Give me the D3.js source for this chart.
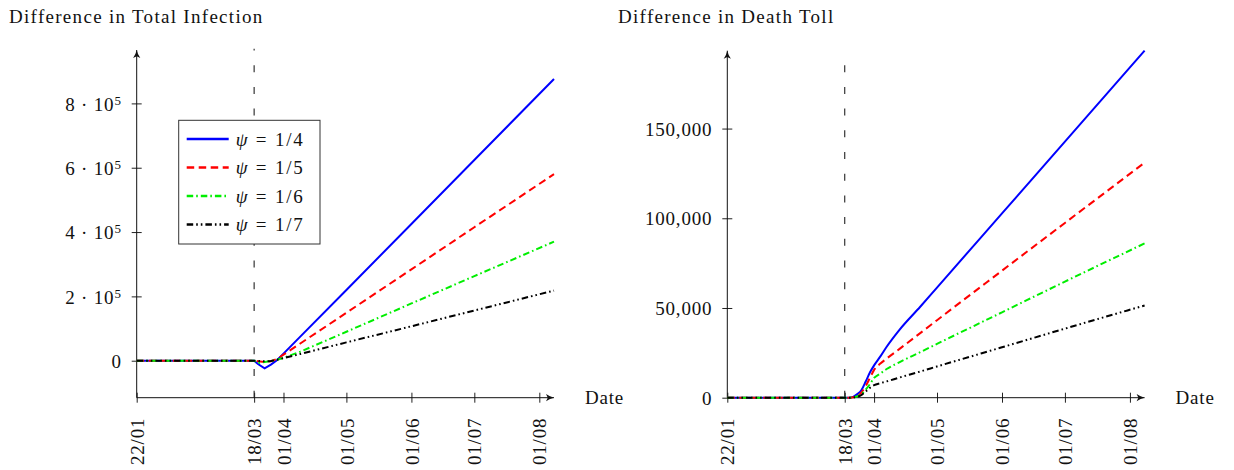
<!DOCTYPE html>
<html>
<head>
<meta charset="utf-8">
<script src="https://cdn.jsdelivr.net/npm/d3@7"></script>
<style>
body { margin: 0; background: #fff; }
svg text { font-family: "Liberation Serif", "DejaVu Serif", serif; fill: #111; letter-spacing: 0.8px; }
</style>
</head>
<body>
<svg id="chart" width="1234" height="470"></svg>
<script>
// ---- data ----
var tickDates = ["2020-01-22", "2020-03-18", "2020-04-01", "2020-05-01", "2020-06-01", "2020-07-01", "2020-08-01"];
var lockdownDate = "2020-03-18";
var psiLabels = ["1/4", "1/5", "1/6", "1/7"];

// Difference in total infection
var infectDates = ["2020-01-22", "2020-03-18", "2020-03-20", "2020-03-23", "2020-03-26", "2020-03-29",
    "2020-04-01", "2020-04-09", "2020-05-01", "2020-06-01", "2020-07-01", "2020-08-08"];
var infectPsi4 = [0, 0, -11000, -24000, -12000, 2000, 22000, 75000, 220000, 425000, 624000, 876000];
var infectPsi5 = [0, 0, -2000, -4000, -1500, 5700, 18700, 53600, 149000, 284000, 415000, 580000];
var infectPsi6 = [0, 0, -7000, -4000, -1000, 3000, 9000, 28000, 90000, 178000, 263000, 370000];
var infectPsi7 = [0, 0, -1000, -2000, -1000, 3300, 8000, 21000, 57000, 107000, 156000, 218000];
var infectTicks = [0, 200000, 400000, 600000, 800000];

// Difference in death toll
var deathDates = ["2020-01-22", "2020-03-18", "2020-03-20", "2020-03-22", "2020-03-24", "2020-03-26",
    "2020-03-28", "2020-03-30", "2020-04-01", "2020-04-04", "2020-04-07", "2020-04-13", "2020-04-23",
    "2020-05-01", "2020-06-01", "2020-07-01", "2020-08-08"];
var deathPsi4 = [0, 0, 0, 500, 2000, 4300, 9000, 14000, 18000, 23000, 28400, 37700, 50700, 61400, 102700, 142700, 193400];
var deathPsi5 = [0, 0, 0, 300, 1000, 3000, 6500, 11000, 15500, 19000, 21800, 27100, 36000, 43200, 70800, 97400, 131000];
var deathPsi6 = [0, 0, 0, 200, 800, 2000, 4500, 7500, 11000, 13500, 16000, 19700, 25400, 30000, 47600, 64700, 86000];
var deathPsi7 = [0, 0, 0, 100, 500, 1500, 3500, 5500, 7000, 8100, 9100, 11200, 14600, 17400, 28100, 38500, 51400];
var deathTicks = [0, 50000, 100000, 150000];

// ---- styles ----
var lineColors = ["#0000ff", "#ff0000", "#00ee00", "#000000"];
var lineDashes = [null, "7.5,4.5", "6.5,3,1.6,3", "6.5,3,1.6,3,1.6,3"];

var parseDate = d3.utcParse("%Y-%m-%d");
var svg = d3.select("#chart");

// arrow tip for axis lines
svg.append("defs").append("marker")
    .attr("id", "tip")
    .attr("markerUnits", "userSpaceOnUse")
    .attr("viewBox", "-9 -4 10 8")
    .attr("refX", 0).attr("refY", 0)
    .attr("markerWidth", 10).attr("markerHeight", 8)
    .attr("orient", "auto")
    .append("path")
    .attr("d", "M-8,-3.6 Q-4,-0.8 0,0 Q-4,0.8 -8,3.6 L-6.2,0 Z")
    .attr("fill", "#111");

/**
 * Draw one panel: axes, guide line, series
 */
function drawPanel(cfg) {
    var g = svg.append("g");

    var x = d3.scaleUtc()
        .domain([parseDate("2020-01-22"), parseDate("2020-08-08")])
        .range([cfg.left, cfg.left + 199 * 2.097]);

    var y = d3.scaleLinear()
        .domain(cfg.yDomain)
        .range([397.7, cfg.top]);

    var axisY = 397.7;

    // title
    g.append("text")
        .attr("x", cfg.titleX)
        .attr("y", 23)
        .style("font-size", "19px")
        .style("letter-spacing", "1.3px")
        .text(cfg.title);

    // lockdown guide line
    g.append("line")
        .attr("x1", x(parseDate(lockdownDate))).attr("x2", x(parseDate(lockdownDate)))
        .attr("y1", y(cfg.vline[0])).attr("y2", y(cfg.vline[1]))
        .attr("stroke", "#222")
        .attr("stroke-width", 1.1)
        .attr("stroke-dasharray", "7,14.7");

    // x axis
    var xAxis = g.append("g")
        .attr("transform", "translate(0," + axisY + ")")
        .call(d3.axisBottom(x)
            .tickValues(tickDates.map(parseDate))
            .tickFormat(d3.utcFormat("%d/%m")));
    xAxis.select(".domain").remove();
    xAxis.selectAll(".tick line").attr("y1", -5).attr("y2", 5).attr("stroke", "#222");
    xAxis.selectAll(".tick text")
        .attr("transform", "rotate(-90)")
        .attr("text-anchor", "end")
        .attr("x", -20)
        .attr("y", 0)
        .attr("dy", "0.35em")
        .style("font-size", "19px")
        .style("font-family", null);
    g.append("line")
        .attr("x1", x.range()[0]).attr("x2", x.range()[1])
        .attr("y1", axisY).attr("y2", axisY)
        .attr("stroke", "#111").attr("stroke-width", 1)
        .attr("marker-end", "url(#tip)");
    g.append("text")
        .attr("x", x.range()[1] + 31)
        .attr("y", axisY + 6.5)
        .style("font-size", "19px")
        .text("Date");

    // y axis
    var yAxis = g.append("g")
        .attr("transform", "translate(" + cfg.left + ",0)")
        .call(d3.axisLeft(y).tickValues(cfg.yTicks).tickFormat(""));
    yAxis.select(".domain").remove();
    yAxis.selectAll(".tick line").attr("x1", -5).attr("x2", 5).attr("stroke", "#222");
    yAxis.selectAll(".tick text")
        .attr("x", -15)
        .attr("dy", "0.35em")
        .attr("text-anchor", "end")
        .style("font-size", "19px")
        .style("font-family", null)
        .each(cfg.yLabel);
    g.append("line")
        .attr("x1", cfg.left).attr("x2", cfg.left)
        .attr("y1", y.range()[0]).attr("y2", y.range()[1])
        .attr("stroke", "#111").attr("stroke-width", 1)
        .attr("marker-end", "url(#tip)");

    // series
    var dates = cfg.dates.map(parseDate);
    var line = d3.line()
        .x(function (d) { return x(d[0]); })
        .y(function (d) { return y(d[1]); })
        .curve(cfg.curve);

    cfg.series.forEach(function (values, i) {
        g.append("path")
            .datum(values.map(function (v, j) { return [dates[j], v]; }))
            .attr("d", line)
            .attr("fill", "none")
            .attr("stroke", lineColors[i])
            .attr("stroke-width", 2)
            .attr("stroke-dasharray", lineDashes[i]);
    });
}

function powerLabel(d) {
    var t = d3.select(this).text("");
    if (d === 0) { t.text("0"); return; }
    t.append("tspan").text((d / 100000) + " \u00b7 10");
    t.append("tspan").attr("dy", "-0.45em").style("font-size", "13px").text("5");
}

function commaLabel(d) {
    d3.select(this).text(d3.format(",")(d));
}

drawPanel({
    title: "Difference in Total Infection",
    titleX: 9,
    left: 136.7,
    top: 50,
    yDomain: [-115000, 966000],
    yTicks: infectTicks,
    yLabel: powerLabel,
    vline: [-115000, 970000],
    dates: infectDates,
    series: [infectPsi4, infectPsi5, infectPsi6, infectPsi7],
    curve: d3.curveLinear
});

drawPanel({
    title: "Difference in Death Toll",
    titleX: 618,
    left: 727.3,
    top: 50.7,
    yDomain: [0, 193400],
    yTicks: deathTicks,
    yLabel: commaLabel,
    vline: [0, 188000],
    dates: deathDates,
    series: [deathPsi4, deathPsi5, deathPsi6, deathPsi7],
    curve: d3.curveMonotoneX
});

// legend of the left panel
var legend = svg.append("g").attr("transform", "translate(178.7,120.3)");
legend.append("rect")
    .attr("width", 141.3).attr("height", 123.7)
    .attr("fill", "#fff").attr("stroke", "#333").attr("stroke-width", 1);

var rows = legend.selectAll(".row").data(psiLabels).enter()
    .append("g")
    .attr("class", "row")
    .attr("transform", function (d, i) { return "translate(0," + (18.7 + i * 28.5) + ")"; });
rows.append("line")
    .attr("x1", 8).attr("x2", 50)
    .attr("stroke", function (d, i) { return lineColors[i]; })
    .attr("stroke-width", 2.6)
    .attr("stroke-dasharray", function (d, i) { return lineDashes[i]; });
var labels = rows.append("text")
    .attr("x", 57)
    .attr("dy", "0.35em")
    .style("font-size", "19px")
    .style("letter-spacing", "1.8px");
labels.append("tspan").style("font-style", "italic").text("\u03c8");
labels.append("tspan").text(function (d) { return " = " + d; });
</script>
</body>
</html>
